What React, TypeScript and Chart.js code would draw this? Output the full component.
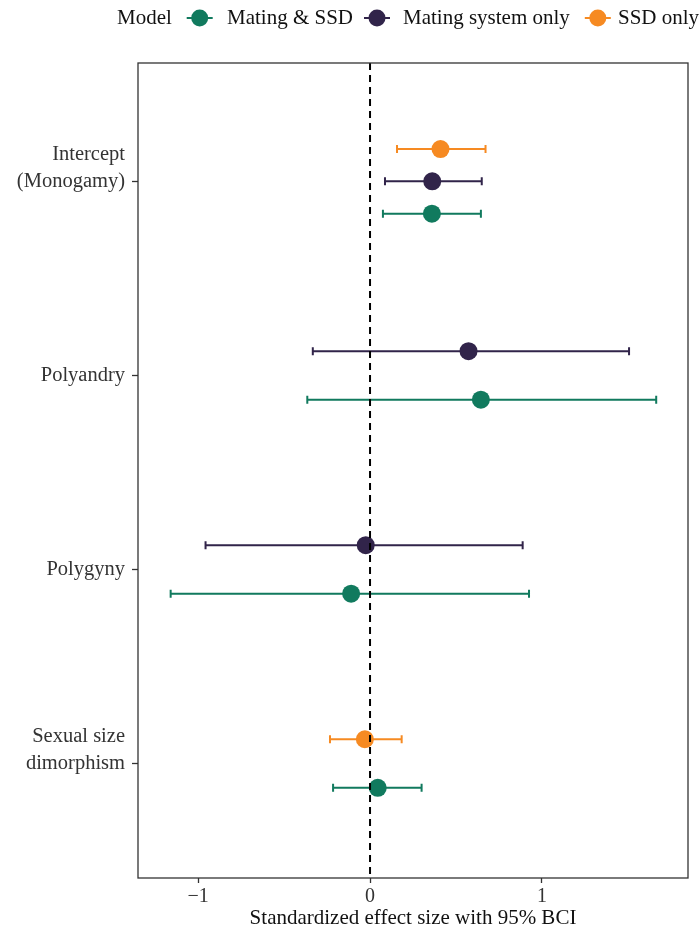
import { useEffect, useRef } from "react";
import { Chart, registerables } from "chart.js";

Chart.register(...registerables);

// ---- Data ----
const categories = ["Intercept (Monogamy)", "Polyandry", "Polygyny", "Sexual size dimorphism"];
const categoryLines = [["Intercept", "(Monogamy)"], ["Polyandry"], ["Polygyny"], ["Sexual size", "dimorphism"]];
const categoryPos = [4, 3, 2, 1];

const models = ["Mating & SSD", "Mating system only", "SSD only"];
const modelColors = ["#117A5E", "#31244A", "#F68A22"];

const matingSSDEst = [0.36, 0.645, -0.11, 0.045];
const matingSSDLo = [0.075, -0.365, -1.16, -0.215];
const matingSSDHi = [0.645, 1.665, 0.925, 0.3];

const matingOnlyEst = [0.362, 0.573, -0.025, null];
const matingOnlyLo = [0.087, -0.333, -0.957, null];
const matingOnlyHi = [0.65, 1.507, 0.888, null];

const ssdOnlyEst = [0.41, null, null, -0.03];
const ssdOnlyLo = [0.157, null, null, -0.233];
const ssdOnlyHi = [0.672, null, null, 0.184];

const xTicks = [-1, 0, 1];
const xMin = -1.35;
const xMax = 1.85;
const yMin = 0.41;
const yMax = 4.61;
const dodgeWidth = 0.5;

const estimates = [matingSSDEst, matingOnlyEst, ssdOnlyEst];
const lows = [matingSSDLo, matingOnlyLo, ssdOnlyLo];
const highs = [matingSSDHi, matingOnlyHi, ssdOnlyHi];

const FONT = '"Liberation Serif", "Times New Roman", serif';

function buildDatasets() {
  const offsets: number[][] = models.map(() => categories.map(() => 0));
  categories.forEach((_, ci) => {
    const present = models.map((_, mi) => mi).filter((mi) => estimates[mi][ci] !== null);
    const n = present.length;
    present.forEach((mi, k) => {
      offsets[mi][ci] = -dodgeWidth / 2 + ((k + 0.5) * dodgeWidth) / n;
    });
  });
  return models.map((m, mi) => ({
    label: m,
    data: categories
      .map((_, ci) =>
        estimates[mi][ci] === null
          ? null
          : { x: estimates[mi][ci], y: categoryPos[ci] + offsets[mi][ci], lo: lows[mi][ci], hi: highs[mi][ci] }
      )
      .filter((d) => d !== null),
    backgroundColor: modelColors[mi],
    borderColor: modelColors[mi],
    borderWidth: 0,
    pointRadius: 9,
    pointHoverRadius: 9,
  }));
}

const errorBarPlugin = {
  id: "errorBars",
  beforeDatasetsDraw(chart: any) {
    const { ctx, scales } = chart;
    const xs = scales.x;
    const ys = scales.y;
    ctx.save();
    chart.data.datasets.forEach((ds: any) => {
      ctx.strokeStyle = ds.borderColor;
      ctx.lineWidth = 2;
      ds.data.forEach((d: any) => {
        const y = ys.getPixelForValue(d.y);
        const x1 = xs.getPixelForValue(d.lo);
        const x2 = xs.getPixelForValue(d.hi);
        ctx.beginPath();
        ctx.moveTo(x1, y);
        ctx.lineTo(x2, y);
        ctx.moveTo(x1, y - 4);
        ctx.lineTo(x1, y + 4);
        ctx.moveTo(x2, y - 4);
        ctx.lineTo(x2, y + 4);
        ctx.stroke();
      });
    });
    ctx.restore();
  },
  afterDatasetsDraw(chart: any) {
    const { ctx, scales, chartArea } = chart;
    const x0 = scales.x.getPixelForValue(0);
    ctx.save();
    ctx.strokeStyle = "#000";
    ctx.lineWidth = 2;
    ctx.setLineDash([7, 5]);
    ctx.beginPath();
    ctx.moveTo(x0, chartArea.top);
    ctx.lineTo(x0, chartArea.bottom);
    ctx.stroke();
    ctx.setLineDash([]);
    ctx.strokeStyle = "#333";
    ctx.lineWidth = 1.3;
    ctx.strokeRect(chartArea.left, chartArea.top, chartArea.right - chartArea.left, chartArea.bottom - chartArea.top);
    ctx.restore();
  },
};

const legendPlugin = {
  id: "topLegend",
  afterDraw(chart: any) {
    const ctx = chart.ctx;
    const y = 18;
    const titleX = 117;
    const glyphX = [199.7, 377, 597.8];
    const textX = [227, 403, 618];
    ctx.save();
    ctx.font = `21px ${FONT}`;
    ctx.textBaseline = "middle";
    ctx.textAlign = "left";
    ctx.fillStyle = "#111";
    ctx.fillText("Model", titleX, y);
    models.forEach((m, i) => {
      ctx.strokeStyle = modelColors[i];
      ctx.lineWidth = 2;
      ctx.beginPath();
      ctx.moveTo(glyphX[i] - 13, y);
      ctx.lineTo(glyphX[i] + 13, y);
      ctx.stroke();
      ctx.fillStyle = modelColors[i];
      ctx.beginPath();
      ctx.arc(glyphX[i], y, 8.5, 0, Math.PI * 2);
      ctx.fill();
      ctx.fillStyle = "#111";
      ctx.fillText(m, textX[i], y);
    });
    ctx.restore();
  },
};

export default function App() {
  const ref = useRef<HTMLCanvasElement | null>(null);
  useEffect(() => {
    document.body.style.margin = "0";
    if (!ref.current) return;
    const chart = new Chart(ref.current, {
      type: "scatter",
      data: { datasets: buildDatasets() as any },
      options: {
        animation: false,
        responsive: false,
        devicePixelRatio: 1,
        layout: { padding: { left: 0, right: 12, top: 63, bottom: 0 } },
        plugins: { legend: { display: false }, tooltip: { enabled: false } },
        scales: {
          x: {
            type: "linear",
            min: xMin,
            max: xMax,
            afterBuildTicks: (s: any) => {
              s.ticks = xTicks.map((v) => ({ value: v }));
            },
            afterFit: (s: any) => {
              s.height = 53;
            },
            border: { display: false },
            grid: { drawOnChartArea: false, drawTicks: true, tickLength: 5, tickColor: "#333", tickWidth: 1.3 },
            ticks: {
              padding: 2,
              color: "#333",
              font: { family: FONT, size: 20 },
              callback: (v: any) => (v < 0 ? "\u2212" + Math.abs(v) : String(v)),
            },
            title: {
              display: true,
              text: "Standardized effect size with 95% BCI",
              color: "#111",
              font: { family: FONT, size: 21 },
              padding: { top: 0, bottom: 0 },
            },
          },
          y: {
            type: "linear",
            min: yMin,
            max: yMax,
            afterBuildTicks: (s: any) => {
              s.ticks = categoryPos.map((v) => ({ value: v }));
            },
            afterFit: (s: any) => {
              s.width = 138;
            },
            border: { display: false },
            grid: { drawOnChartArea: false, drawTicks: true, tickLength: 6, tickColor: "#333", tickWidth: 1.3 },
            ticks: {
              padding: 7,
              color: "#333",
              font: { family: FONT, size: 20.5, lineHeight: 1.32 },
              callback: (v: any) => {
                const idx = categoryPos.indexOf(v);
                if (idx < 0) return "";
                const lines = categoryLines[idx];
                return lines.length > 1 ? [...lines, ""] : lines[0];
              },
            },
          },
        },
      },
      plugins: [errorBarPlugin, legendPlugin],
    });
    return () => chart.destroy();
  }, []);
  return <canvas ref={ref} width={700} height={931} style={{ display: "block", width: 700, height: 931 }} />;
}
